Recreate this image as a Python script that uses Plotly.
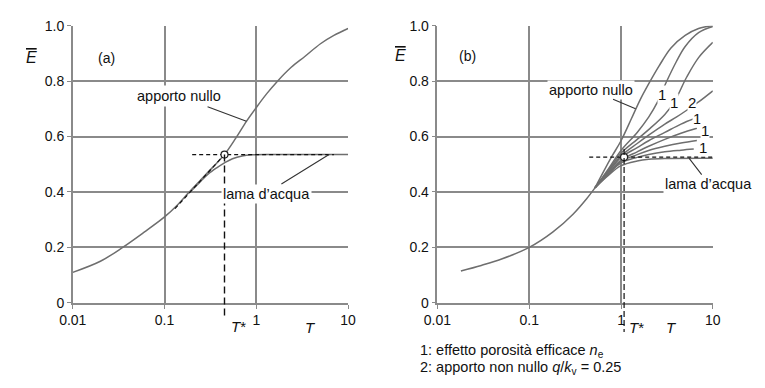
import numpy as np
import plotly.graph_objects as go

# ---------------- data ----------------
x_ticks = [0.01, 0.1, 1, 10]
x_tick_labels = ["0.01", "0.1", "1", "10"]
y_ticks = [0, 0.2, 0.4, 0.6, 0.8, 1.0]
y_tick_labels = ["0", "0.2", "0.4", "0.6", "0.8", "1.0"]

# panel (a)
a_T_null = [0.01, 0.02, 0.035, 0.06, 0.1, 0.14, 0.18, 0.25, 0.33, 0.45, 0.6, 0.78, 1.0, 1.3, 1.7, 2.4, 3.4, 5.0, 7.0, 10]
a_E_null = [0.11, 0.15, 0.20, 0.255, 0.31, 0.355, 0.395, 0.445, 0.487, 0.535, 0.595, 0.655, 0.705, 0.755, 0.80, 0.85, 0.89, 0.935, 0.965, 0.99]
a_T_lama = [0.19, 0.25, 0.3, 0.37, 0.45, 0.55, 0.7, 0.9, 1.5, 10]
a_E_lama = [0.40, 0.44, 0.465, 0.487, 0.505, 0.52, 0.53, 0.534, 0.535, 0.535]
a_Tstar, a_Estar = 0.45, 0.535
a_chord_T = [0.13, 0.45]
a_chord_E = [0.34, 0.535]
a_hdash_T = [0.2, 7.0]

# panel (b)
b_T_base = [0.018, 0.03, 0.05, 0.1, 0.18, 0.3, 0.42, 0.52]
b_E_base = [0.115, 0.135, 0.158, 0.2, 0.255, 0.32, 0.375, 0.415]
b_T_null = [0.52, 0.66, 0.8, 1.0, 1.3, 1.6, 2.0, 2.6, 3.5, 5.0, 7.0, 10]
b_E_null = [0.415, 0.48, 0.53, 0.585, 0.665, 0.73, 0.79, 0.855, 0.92, 0.965, 0.99, 1.0]
b_T_B = [0.52, 0.7, 1.0, 1.5, 2.0, 2.5, 3.1, 4.0, 5.0, 7.0, 10]
b_E_B = [0.415, 0.475, 0.55, 0.615, 0.67, 0.725, 0.795, 0.87, 0.925, 0.975, 0.997]
b_T_C = [0.52, 0.7, 1.0, 1.5, 2.0, 3.0, 3.8, 5.2, 7.0, 10]
b_E_C = [0.415, 0.47, 0.54, 0.59, 0.625, 0.68, 0.725, 0.815, 0.885, 0.94]
b_T_D = [0.52, 0.7, 1.0, 1.5, 2.0, 3.0, 4.0, 5.2, 7.0, 10]
b_E_D = [0.415, 0.468, 0.53, 0.575, 0.605, 0.645, 0.67, 0.695, 0.725, 0.765]
b_T_E = [0.52, 0.7, 1.0, 1.5, 2.0, 3.0, 4.5, 6.3]
b_E_E = [0.415, 0.465, 0.525, 0.56, 0.585, 0.615, 0.645, 0.665]
b_T_F = [0.52, 0.7, 1.0, 1.5, 2.0, 3.0, 4.5, 6.7]
b_E_F = [0.415, 0.462, 0.515, 0.545, 0.565, 0.59, 0.612, 0.63]
b_T_G = [0.52, 0.7, 1.0, 1.5, 2.0, 3.0, 4.5, 6.7]
b_E_G = [0.415, 0.46, 0.51, 0.535, 0.55, 0.565, 0.577, 0.586]
b_T_H = [0.52, 0.7, 1.0, 1.5, 2.0, 3.0, 4.5, 6.2]
b_E_H = [0.415, 0.458, 0.505, 0.525, 0.535, 0.545, 0.551, 0.555]
b_T_lama = [0.52, 0.7, 1.0, 1.5, 2.0, 3.0, 10]
b_E_lama = [0.415, 0.455, 0.495, 0.512, 0.518, 0.521, 0.522]
b_Tstar, b_Estar = 1.08, 0.526
b_hdash_T = [0.45, 10]

# curve labels (panel b)
b_lab_text = ["1", "1", "2", "1", "1", "1"]
b_lab_T = [2.78, 3.82, 5.9, 6.7, 8.3, 7.9]
b_lab_E = [0.751, 0.723, 0.723, 0.667, 0.622, 0.562]

# ---------------- style ----------------
W, H = 765, 388
FONT = "Liberation Sans, Arial, sans-serif"
CURVE = "#6e6e6e"
GRID = "#8a8a8a"
xdom_a = [60.5 / W, 344 / W]
xdom_b = [436 / W, 719.5 / W]
ydom = [1 - 307.5 / H, 1 - 18.5 / H]


def paper_x(T, dom):
    return dom[0] + (np.log10(T) + 2) / 3 * (dom[1] - dom[0])


def paper_y(E):
    return ydom[0] + E * (ydom[1] - ydom[0])


fig = go.Figure()


def curve(T, E, xa, ya):
    fig.add_trace(go.Scatter(x=T, y=E, mode="lines", xaxis=xa, yaxis=ya,
                             line=dict(color=CURVE, width=1.5, shape="spline", smoothing=1.0),
                             hoverinfo="skip", showlegend=False))


def dashed(T, E, xa, ya):
    fig.add_trace(go.Scatter(x=T, y=E, mode="lines", xaxis=xa, yaxis=ya,
                             line=dict(color="#111", width=1.2, dash="4px,3px"),
                             hoverinfo="skip", showlegend=False))


# panel (a)
curve(a_T_null, a_E_null, "x", "y")
curve(a_T_lama, a_E_lama, "x", "y")
dashed(a_hdash_T, [a_Estar, a_Estar], "x", "y")
dashed(a_chord_T, a_chord_E, "x", "y")
fig.add_trace(go.Scatter(x=[a_Tstar], y=[a_Estar], mode="markers", xaxis="x", yaxis="y",
                         marker=dict(size=7, color="white", line=dict(color="#222", width=1.2)),
                         hoverinfo="skip", showlegend=False))

# panel (b)
curve(b_T_base, b_E_base, "x2", "y2")
for T, E in [(b_T_null, b_E_null), (b_T_B, b_E_B), (b_T_C, b_E_C), (b_T_D, b_E_D),
             (b_T_E, b_E_E), (b_T_F, b_E_F), (b_T_G, b_E_G), (b_T_H, b_E_H),
             (b_T_lama, b_E_lama)]:
    curve(T, E, "x2", "y2")
dashed(b_hdash_T, [b_Estar, b_Estar], "x2", "y2")
fig.add_trace(go.Scatter(x=[b_Tstar], y=[b_Estar], mode="markers", xaxis="x2", yaxis="y2",
                         marker=dict(size=7, color="white", line=dict(color="#222", width=1.2)),
                         hoverinfo="skip", showlegend=False))

# vertical dashed lines extending below the axes (paper coords computed from data)
shapes = [
    dict(type="line", xref="paper", yref="paper",
         x0=paper_x(a_Tstar, xdom_a), x1=paper_x(a_Tstar, xdom_a),
         y0=paper_y(a_Estar), y1=paper_y(-0.05),
         line=dict(color="#111", width=1.4, dash="7px,4px")),
    dict(type="line", xref="paper", yref="paper",
         x0=paper_x(b_Tstar, xdom_b), x1=paper_x(b_Tstar, xdom_b),
         y0=paper_y(0.555), y1=paper_y(-0.105),
         line=dict(color="#111", width=1.2, dash="6px,3px")),
]

axis_common = dict(type="log", range=[-2, 1], tickvals=x_ticks, ticktext=x_tick_labels,
                   showgrid=True, gridcolor=GRID, gridwidth=1.5, showline=True,
                   linecolor=GRID, linewidth=1.5, mirror=False, ticks="outside",
                   ticklen=4, tickcolor=GRID, zeroline=False,
                   tickfont=dict(family=FONT, size=14, color="#111"))
yaxis_common = dict(range=[0, 1.0], tickvals=y_ticks, ticktext=y_tick_labels,
                    showgrid=True, gridcolor=GRID, gridwidth=1.5, showline=True,
                    linecolor=GRID, linewidth=1.5, ticks="outside", ticklen=4,
                    tickcolor=GRID, zeroline=False,
                    tickfont=dict(family=FONT, size=14, color="#111"))

ann = []
txt = dict(family=FONT, size=14.5, color="#111")


def paper_text(xpx, ypx, text, font, xanchor="center"):
    ann.append(dict(xref="paper", yref="paper", x=xpx / W, y=1 - ypx / H, text=text,
                    showarrow=False, xanchor=xanchor, yanchor="middle", font=font))


# y-axis titles
for xpx, ypx in [(18, 52), (398, 50)]:
    paper_text(xpx, ypx, "<i><span style='text-decoration:overline'>E</span></i>",
               dict(family=FONT, size=16, color="#111"))
# panel tags
paper_text(95, 52, "(a)", dict(family=FONT, size=14, color="#111"))
paper_text(467, 50, "(b)", dict(family=FONT, size=14, color="#111"))
# T* and T labels
tfont = dict(family=FONT, size=15, color="#111")
paper_text(231, 332, "<i>T</i>*", tfont)
paper_text(305, 333, "<i>T</i>", tfont)
paper_text(641, 333, "<i>T</i>*", tfont)
paper_text(677, 333, "<i>T</i>", tfont)

# curve annotations with leaders
ann.append(dict(xref="x", yref="y", x=np.log10(0.78), y=0.655, ax=-67, ay=-25,
                text="apporto nullo", showarrow=True, arrowhead=0, arrowwidth=1.1,
                arrowcolor="#333", bgcolor="white", borderpad=2, font=txt))
ann.append(dict(xref="x", yref="y", x=np.log10(6.2), y=0.535, ax=-63, ay=39,
                text="lama d\u2019acqua", showarrow=True, arrowhead=0, arrowwidth=1.1,
                arrowcolor="#333", bgcolor="white", borderpad=1, font=txt))
ann.append(dict(xref="x2", yref="y2", x=np.log10(1.44), y=0.70, ax=-45, ay=-19,
                text="apporto nullo", showarrow=True, arrowhead=0, arrowwidth=1.1,
                arrowcolor="#333", bgcolor="white", borderpad=1, font=txt))
ann.append(dict(xref="x2", yref="y2", x=np.log10(5.5), y=0.522, ax=20, ay=26,
                text="lama d\u2019acqua", showarrow=True, arrowhead=0, arrowwidth=1.1,
                arrowcolor="#333", bgcolor="white", borderpad=1, font=txt))
for t, T, E in zip(b_lab_text, b_lab_T, b_lab_E):
    ann.append(dict(xref="x2", yref="y2", x=np.log10(T), y=E, text=t, showarrow=False,
                    bgcolor="white", borderpad=0,
                    font=dict(family=FONT, size=15, color="#111")))

# footnotes
ffont = dict(family=FONT, size=14.5, color="#111")
paper_text(416, 358, "1: effetto porosità efficace <i>n</i><sub>e</sub>", ffont, "left")
paper_text(416, 376, "2: apporto non nullo <i>q</i>/<i>k</i><sub>v</sub> = 0.25", ffont, "left")

fig.update_layout(
    width=W, height=H, margin=dict(l=0, r=0, t=0, b=0),
    paper_bgcolor="white", plot_bgcolor="white", showlegend=False,
    xaxis=dict(domain=xdom_a, anchor="y", **axis_common),
    yaxis=dict(domain=ydom, anchor="x", **yaxis_common),
    xaxis2=dict(domain=xdom_b, anchor="y2", **axis_common),
    yaxis2=dict(domain=ydom, anchor="x2", **yaxis_common),
    shapes=shapes, annotations=ann,
)

fig.write_html("out.html")
